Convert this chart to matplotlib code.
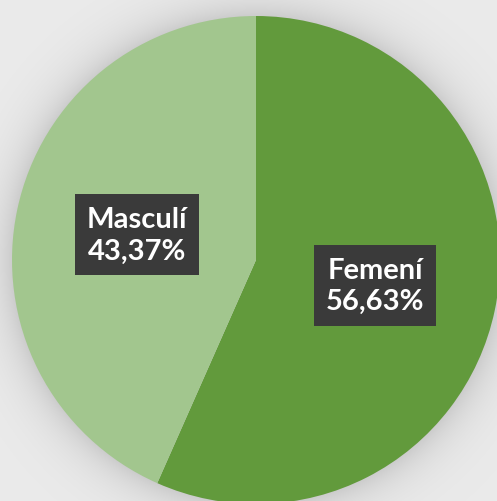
import numpy as np
import matplotlib
matplotlib.use("Agg")
import matplotlib.pyplot as plt

categories = ["Femení", "Masculí"]
values = [56.63, 43.37]
colors = ["#629a3c", "#a2c68e"]

W, H = 497, 502
fig = plt.figure(figsize=(W / 100, H / 100), dpi=100)
ax = fig.add_axes([0, 0, 1, 1])

cx, cy, R = 256, H - 261, 244

# background with soft shadow around the pie
yy, xx = np.mgrid[0:H, 0:W]
d = np.hypot(xx + 0.5 - cx, (H - yy - 0.5) - cy)
base = 0.955 - 0.035 * (np.hypot(xx - W / 2, yy - H / 2) / 350)
shadow = 0.13 * np.exp(-np.clip(d - R, 0, None) / 22.0)
bg = np.clip(base - shadow, 0, 1)
ax.imshow(np.dstack([bg, bg, bg]), extent=(0, W, 0, H), origin="upper", zorder=0)

wedges = ax.pie(values, colors=colors, startangle=90, counterclock=False,
                center=(cx, cy), radius=R, frame=True,
                wedgeprops=dict(linewidth=0))[0]
ax.set_xlim(0, W)
ax.set_ylim(0, H)
ax.axis("off")

# labels inside boxes
total = sum(values)
start = 90.0
for name, v in zip(categories, values):
    ang = start - 360 * v / total / 2
    start -= 360 * v / total
    r = 0.5 * R
    x = cx + r * np.cos(np.radians(ang))
    y = cy + r * np.sin(np.radians(ang))
    ax.text(x, y, f"{name}\n{v:.2f}%".replace(".", ","), ha="center", va="center",
            color="white", fontsize=21, fontweight="bold", family="Lato",
            linespacing=1.25, zorder=5,
            bbox=dict(boxstyle="square,pad=0.4", facecolor="#3a3a3a", edgecolor="none"))

fig.savefig("out.png", dpi=100)
